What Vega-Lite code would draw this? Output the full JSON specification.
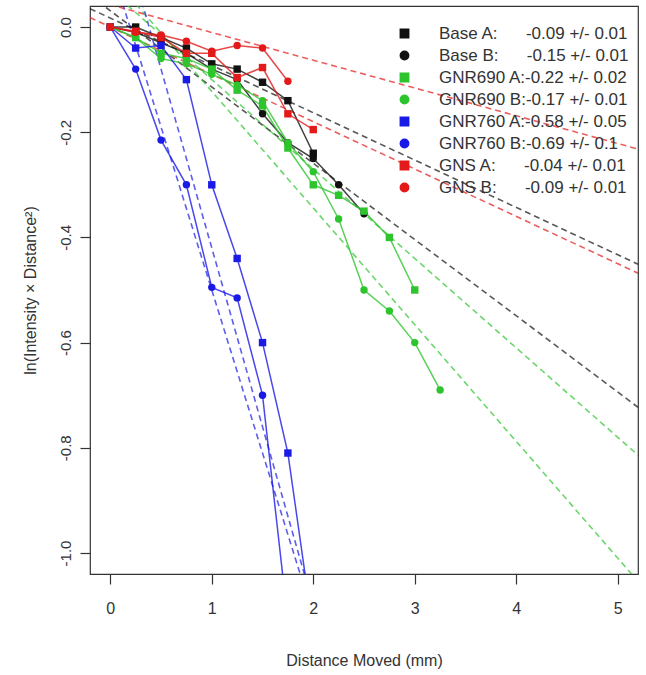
{
  "$schema": "https://vega.github.io/schema/vega-lite/v6.json",
  "width": 548,
  "height": 568,
  "autosize": "none",
  "padding": {"left": 90, "top": 6, "right": 8, "bottom": 101},
  "background": "white",
  "config": {
    "font": "Liberation Sans",
    "view": {"stroke": "#333333", "strokeWidth": 1.2},
    "axis": {"grid": false, "domain": false, "tickColor": "#333333", "tickSize": 10, "tickWidth": 1.2, "labelColor": "#333333", "titleColor": "#333333", "labelFont": "Liberation Sans", "titleFont": "Liberation Sans", "titleFontWeight": "normal"}
  },
  "datasets": {
    "pts": [
      {"s": "Base A", "x": 0, "y": 0}, {"s": "Base A", "x": 0.25, "y": 0.0}, {"s": "Base A", "x": 0.5, "y": -0.02}, {"s": "Base A", "x": 0.75, "y": -0.04}, {"s": "Base A", "x": 1.0, "y": -0.07}, {"s": "Base A", "x": 1.25, "y": -0.08}, {"s": "Base A", "x": 1.5, "y": -0.105}, {"s": "Base A", "x": 1.75, "y": -0.14}, {"s": "Base A", "x": 2.0, "y": -0.24},
      {"s": "Base B", "x": 0, "y": 0}, {"s": "Base B", "x": 0.25, "y": -0.01}, {"s": "Base B", "x": 0.5, "y": -0.03}, {"s": "Base B", "x": 0.75, "y": -0.05}, {"s": "Base B", "x": 1.0, "y": -0.08}, {"s": "Base B", "x": 1.25, "y": -0.1}, {"s": "Base B", "x": 1.5, "y": -0.165}, {"s": "Base B", "x": 1.75, "y": -0.22}, {"s": "Base B", "x": 2.0, "y": -0.25}, {"s": "Base B", "x": 2.25, "y": -0.3}, {"s": "Base B", "x": 2.5, "y": -0.355},
      {"s": "GNR690 A", "x": 0, "y": 0}, {"s": "GNR690 A", "x": 0.25, "y": -0.02}, {"s": "GNR690 A", "x": 0.5, "y": -0.05}, {"s": "GNR690 A", "x": 0.75, "y": -0.06}, {"s": "GNR690 A", "x": 1.0, "y": -0.08}, {"s": "GNR690 A", "x": 1.25, "y": -0.12}, {"s": "GNR690 A", "x": 1.5, "y": -0.15}, {"s": "GNR690 A", "x": 1.75, "y": -0.23}, {"s": "GNR690 A", "x": 2.0, "y": -0.3}, {"s": "GNR690 A", "x": 2.25, "y": -0.32}, {"s": "GNR690 A", "x": 2.5, "y": -0.35}, {"s": "GNR690 A", "x": 2.75, "y": -0.4}, {"s": "GNR690 A", "x": 3.0, "y": -0.5},
      {"s": "GNR690 B", "x": 0, "y": 0}, {"s": "GNR690 B", "x": 0.25, "y": -0.02}, {"s": "GNR690 B", "x": 0.5, "y": -0.06}, {"s": "GNR690 B", "x": 0.75, "y": -0.07}, {"s": "GNR690 B", "x": 1.0, "y": -0.09}, {"s": "GNR690 B", "x": 1.25, "y": -0.11}, {"s": "GNR690 B", "x": 1.5, "y": -0.14}, {"s": "GNR690 B", "x": 1.75, "y": -0.22}, {"s": "GNR690 B", "x": 2.0, "y": -0.275}, {"s": "GNR690 B", "x": 2.25, "y": -0.365}, {"s": "GNR690 B", "x": 2.5, "y": -0.5}, {"s": "GNR690 B", "x": 2.75, "y": -0.54}, {"s": "GNR690 B", "x": 3.0, "y": -0.6}, {"s": "GNR690 B", "x": 3.25, "y": -0.69},
      {"s": "GNR760 A", "x": 0, "y": 0}, {"s": "GNR760 A", "x": 0.25, "y": -0.04}, {"s": "GNR760 A", "x": 0.5, "y": -0.035}, {"s": "GNR760 A", "x": 0.75, "y": -0.1}, {"s": "GNR760 A", "x": 1.0, "y": -0.3}, {"s": "GNR760 A", "x": 1.25, "y": -0.44}, {"s": "GNR760 A", "x": 1.5, "y": -0.6}, {"s": "GNR760 A", "x": 1.75, "y": -0.81}, {"s": "GNR760 A", "x": 2.0, "y": -1.15},
      {"s": "GNR760 B", "x": 0, "y": 0}, {"s": "GNR760 B", "x": 0.25, "y": -0.08}, {"s": "GNR760 B", "x": 0.5, "y": -0.215}, {"s": "GNR760 B", "x": 0.75, "y": -0.3}, {"s": "GNR760 B", "x": 1.0, "y": -0.495}, {"s": "GNR760 B", "x": 1.25, "y": -0.515}, {"s": "GNR760 B", "x": 1.5, "y": -0.7}, {"s": "GNR760 B", "x": 1.75, "y": -1.13},
      {"s": "GNS A", "x": 0, "y": 0}, {"s": "GNS A", "x": 0.25, "y": -0.008}, {"s": "GNS A", "x": 0.5, "y": -0.02}, {"s": "GNS A", "x": 0.75, "y": -0.05}, {"s": "GNS A", "x": 1.0, "y": -0.05}, {"s": "GNS A", "x": 1.25, "y": -0.096}, {"s": "GNS A", "x": 1.5, "y": -0.077}, {"s": "GNS A", "x": 1.75, "y": -0.165}, {"s": "GNS A", "x": 2.0, "y": -0.195},
      {"s": "GNS B", "x": 0, "y": 0}, {"s": "GNS B", "x": 0.25, "y": -0.01}, {"s": "GNS B", "x": 0.5, "y": -0.015}, {"s": "GNS B", "x": 0.75, "y": -0.027}, {"s": "GNS B", "x": 1.0, "y": -0.046}, {"s": "GNS B", "x": 1.25, "y": -0.035}, {"s": "GNS B", "x": 1.5, "y": -0.04}, {"s": "GNS B", "x": 1.75, "y": -0.103}
    ],
    "fits": [
      {"s": "Base A", "x": -0.2, "y": 0.035}, {"s": "Base A", "x": 5.2, "y": -0.451},
      {"s": "Base B", "x": -0.2, "y": 0.06}, {"s": "Base B", "x": 5.2, "y": -0.723},
      {"s": "GNR690 A", "x": -0.2, "y": 0.144}, {"s": "GNR690 A", "x": 5.2, "y": -1.054},
      {"s": "GNR690 B", "x": -0.2, "y": 0.104}, {"s": "GNR690 B", "x": 5.2, "y": -0.814},
      {"s": "GNR760 A", "x": -0.2, "y": 0.244}, {"s": "GNR760 A", "x": 2.0, "y": -1.12},
      {"s": "GNR760 B", "x": -0.2, "y": 0.396}, {"s": "GNR760 B", "x": 2.0, "y": -1.1},
      {"s": "GNS A", "x": -0.2, "y": 0.018}, {"s": "GNS A", "x": 5.2, "y": -0.468},
      {"s": "GNS B", "x": -0.2, "y": 0.053}, {"s": "GNS B", "x": 5.2, "y": -0.232}
    ]
  },
  "encoding": {
    "x": {"field": "x", "type": "quantitative", "scale": {"domain": [-0.2, 5.2], "nice": false, "zero": false},
      "axis": {"values": [0, 1, 2, 3, 4, 5], "format": "d", "title": "Distance Moved (mm)", "labelFontSize": 16, "titleFontSize": 16, "labelPadding": 16, "titlePadding": 36}},
    "y": {"field": "y", "type": "quantitative", "scale": {"domain": [-1.04, 0.04], "nice": false, "zero": false},
      "axis": {"values": [0, -0.2, -0.4, -0.6, -0.8, -1.0], "labelExpr": "replace(format(datum.value, '.1f'), '\u2212', '-')", "labelAngle": -90, "labelAlign": "center", "labelBaseline": "bottom", "labelFontSize": 15, "labelPadding": 7, "title": "ln(Intensity \u00d7 Distance\u00b2)", "titleFontSize": 16, "titlePadding": 20}},
    "color": {"field": "s", "type": "nominal",
      "scale": {"domain": ["Base A", "Base B", "GNR690 A", "GNR690 B", "GNR760 A", "GNR760 B", "GNS A", "GNS B"],
        "range": ["#111111", "#111111", "#2ec42e", "#2ec42e", "#1a1ae6", "#1a1ae6", "#e41a1a", "#e41a1a"]},
      "legend": {
        "title": "\u00a0", "titleFontSize": 6, "titlePadding": 4,
        "orient": "top-right", "offset": 9, "padding": 0,
        "labelFontSize": 17, "labelColor": "#333333", "labelLimit": 400, "labelOffset": 26,
        "symbolSize": 70, "rowPadding": 4, "symbolStrokeWidth": 1.5, "symbolOpacity": 1,
        "labelExpr": "datum.label == 'Base A' ? 'Base A:\u00a0\u00a0\u00a0\u00a0\u00a0\u00a0-0.09 +/- 0.01' : datum.label == 'Base B' ? 'Base B:\u00a0\u00a0\u00a0\u00a0\u00a0\u00a0-0.15 +/- 0.01' : datum.label == 'GNR690 A' ? 'GNR690 A:-0.22 +/- 0.02' : datum.label == 'GNR690 B' ? 'GNR690 B:-0.17 +/- 0.01' : datum.label == 'GNR760 A' ? 'GNR760 A:-0.58 +/- 0.05' : datum.label == 'GNR760 B' ? 'GNR760 B:-0.69 +/- 0.1' : datum.label == 'GNS A' ? 'GNS A:\u00a0\u00a0\u00a0\u00a0\u00a0\u00a0-0.04 +/- 0.01' : 'GNS B:\u00a0\u00a0\u00a0\u00a0\u00a0\u00a0-0.09 +/- 0.01'"
      }
    }
  },
  "layer": [
    {
      "data": {"name": "fits"},
      "mark": {"type": "line", "clip": true, "strokeDash": [6, 4], "strokeWidth": 1.6, "opacity": 0.7},
      "encoding": {"detail": {"field": "s"}}
    },
    {
      "data": {"name": "pts"},
      "mark": {"type": "line", "clip": true, "strokeWidth": 1.5, "opacity": 0.8},
      "encoding": {"detail": {"field": "s"}, "order": {"field": "x"}}
    },
    {
      "data": {"name": "pts"},
      "mark": {"type": "point", "clip": true, "filled": true, "opacity": 1, "size": 55},
      "encoding": {
        "shape": {"field": "s", "type": "nominal",
          "scale": {"domain": ["Base A", "Base B", "GNR690 A", "GNR690 B", "GNR760 A", "GNR760 B", "GNS A", "GNS B"],
            "range": ["square", "circle", "square", "circle", "square", "circle", "square", "circle"]},
          "legend": null
        }
      }
    }
  ]
}
